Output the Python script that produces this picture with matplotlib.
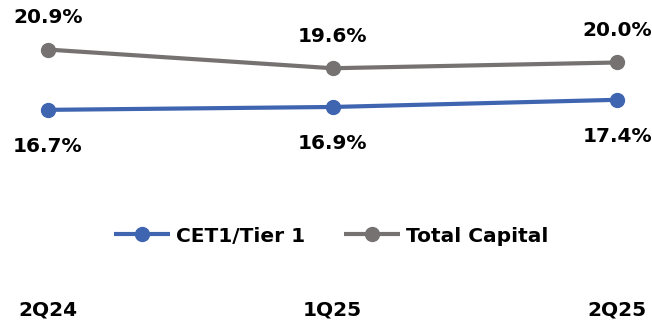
import matplotlib
matplotlib.use("Agg")
import matplotlib.pyplot as plt

categories = ["2Q24", "1Q25", "2Q25"]
cet1 = [16.7, 16.9, 17.4]
total_capital = [20.9, 19.6, 20.0]
series_names = ["CET1/Tier 1", "Total Capital"]

blue = "#3F65B1"
gray = "#767272"

fig = plt.figure(figsize=(6.52, 3.24), dpi=100)
ax = fig.add_axes([0, 0, 1, 1])
x = list(range(len(categories)))

ax.plot(x, cet1, color=blue, lw=3.0, marker="o", ms=10, label=series_names[0], solid_capstyle="butt")
ax.plot(x, total_capital, color=gray, lw=3.0, marker="o", ms=10, label=series_names[1], solid_capstyle="butt")

ax.set_xlim(-0.1687, 2.123)
ax.set_ylim(1.777, 24.355)
ax.axis("off")

fs = 14.5
for xi, v in zip(x, total_capital):
    ax.annotate(f"{v:.1f}%", (xi, v), xytext=(0, 23), textcoords="offset points",
                ha="center", va="center", fontsize=fs, fontweight="bold", color="black")
for xi, v in zip(x, cet1):
    ax.annotate(f"{v:.1f}%", (xi, v), xytext=(0, -26.5), textcoords="offset points",
                ha="center", va="center", fontsize=fs, fontweight="bold", color="black")

for xi, lab in zip(x, categories):
    ax.text(xi, 1 - 310 / 324, lab, transform=ax.get_xaxis_transform(),
            ha="center", va="center", fontsize=14.5, fontweight="bold", color="black")

leg = ax.legend(loc="center", bbox_to_anchor=(331 / 652, 1 - 236 / 324), ncol=2,
                frameon=False, prop={"size": fs, "weight": "bold"},
                handlelength=2.78, handletextpad=0.3, columnspacing=1.93,
                borderaxespad=0, borderpad=0)

fig.savefig("out.png", dpi=100)
